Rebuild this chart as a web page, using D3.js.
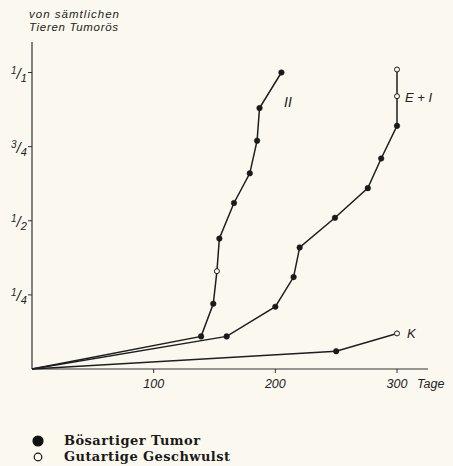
<!DOCTYPE html>
<html>
<head>
<meta charset="utf-8">
<script src="https://cdn.jsdelivr.net/npm/d3@7"></script>
<style>
  body { margin: 0; background: #fbf9ef; }
  svg { display: block; }
  .ital { font-family: "Liberation Sans", Arial, sans-serif; font-style: italic; fill: #222; }
  .legend { font-family: "DejaVu Serif", "Liberation Serif", serif; font-weight: bold; fill: #1a1a1a; }
</style>
</head>
<body>
<svg id="chart" width="453" height="466"></svg>
<script>
// Tage seit Versuchsbeginn und Anteil tumoröser Tiere
const daysII = [0, 139, 149, 152, 154, 166, 179, 185, 187, 205];
const shareII = [0, 0.11, 0.22, 0.33, 0.44, 0.56, 0.66, 0.77, 0.88, 1.0];
const kindII = ["", "m", "m", "b", "m", "m", "m", "m", "m", "m"];

const daysEI = [0, 160, 200, 215, 220, 249, 276, 287, 300, 300, 300];
const shareEI = [0, 0.11, 0.21, 0.31, 0.41, 0.51, 0.61, 0.71, 0.82, 0.92, 1.01];
const kindEI = ["", "m", "m", "m", "m", "m", "m", "m", "m", "b", "b"];

const daysK = [0, 250, 300];
const shareK = [0, 0.06, 0.12];
const kindK = ["", "m", "b"];

const xTicks = [100, 200, 300];
const yTicks = [[1, 4], [1, 2], [3, 4], [1, 1]];
const legendItems = [["m", "Bösartiger Tumor"], ["b", "Gutartige Geschwulst"]];

const svg = d3.select("#chart");

const x = d3.scaleLinear().domain([0, 300]).range([32, 397]);
const y = d3.scaleLinear().domain([0, 1]).range([369, 72.5]);

// Achsen
svg.append("line").attr("x1", x(0)).attr("x2", 428).attr("y1", y(0)).attr("y2", y(0))
  .attr("stroke", "#333").attr("stroke-width", 1);
svg.append("line").attr("x1", x(0)).attr("x2", x(0)).attr("y1", y(0)).attr("y2", 42)
  .attr("stroke", "#333").attr("stroke-width", 1.2);

// x-Ticks
xTicks.forEach(t => {
  svg.append("line").attr("x1", x(t)).attr("x2", x(t)).attr("y1", y(0)).attr("y2", y(0) + 4)
    .attr("stroke", "#333");
  svg.append("text").attr("class", "ital").attr("x", x(t)).attr("y", 388)
    .attr("text-anchor", "middle").attr("font-size", 12.5).text(t);
});
svg.append("text").attr("class", "ital").attr("x", 417).attr("y", 388)
  .attr("font-size", 12.5).text("Tage");

// y-Ticks als Bruch
yTicks.forEach(([n, d]) => {
  const yy = y(n / d);
  svg.append("line").attr("x1", x(0) - 4).attr("x2", x(0)).attr("y1", yy).attr("y2", yy)
    .attr("stroke", "#333");
  const t = svg.append("text").attr("class", "ital").attr("x", 11).attr("y", yy + 5);
  t.append("tspan").attr("dy", -4).attr("font-size", 10).text(n);
  t.append("tspan").attr("dy", 5).attr("font-size", 15).text("/");
  t.append("tspan").attr("dy", 3).attr("font-size", 11).text(d);
});

// Achsentitel
svg.append("text").attr("class", "ital").attr("x", 29).attr("y", 18).attr("font-size", 11.5)
  .attr("textLength", 90).text("von sämtlichen");
svg.append("text").attr("class", "ital").attr("x", 29).attr("y", 31).attr("font-size", 11.5)
  .attr("textLength", 89).text("Tieren Tumorös");

const line = d3.line().x(d => x(d[0])).y(d => y(d[1]));

function drawSeries(days, share, kind) {
  const pts = days.map((d, i) => [d, share[i], kind[i]]);
  svg.append("path").datum(pts).attr("d", line)
    .attr("fill", "none").attr("stroke", "#1e1e1e").attr("stroke-width", 1.5);
  svg.selectAll(null).data(pts.filter(p => p[2])).enter().append("circle")
    .attr("cx", p => x(p[0])).attr("cy", p => y(p[1]))
    .attr("r", p => p[2] === "m" ? 2.8 : 2.5)
    .attr("fill", p => p[2] === "m" ? "#1a1a1a" : "#fbf9ef")
    .attr("stroke", "#1a1a1a").attr("stroke-width", p => p[2] === "m" ? 0.5 : 1);
}

drawSeries(daysK, shareK, kindK);
drawSeries(daysEI, shareEI, kindEI);
drawSeries(daysII, shareII, kindII);

// Kurvenbeschriftung
svg.append("text").attr("class", "ital").attr("x", 284).attr("y", 107).attr("font-size", 14)
  .attr("font-family", "Liberation Serif").text("II");
svg.append("text").attr("class", "ital").attr("x", 405).attr("y", 102).attr("font-size", 13).text("E + I");
svg.append("text").attr("class", "ital").attr("x", 407).attr("y", 338).attr("font-size", 13).text("K");

// Legende
legendItems.forEach(([k, label], i) => {
  const yy = 441 + i * 16;
  svg.append("circle").attr("cx", 38).attr("cy", yy)
    .attr("r", k === "m" ? 5 : 3.8)
    .attr("fill", k === "m" ? "#111" : "#fbf9ef")
    .attr("stroke", "#111").attr("stroke-width", 1.2);
  svg.append("text").attr("class", "legend").attr("x", 64).attr("y", yy + 4)
    .attr("font-size", 13)
    .attr("textLength", i === 0 ? 136 : 166).attr("lengthAdjust", "spacing")
    .text(label);
});
</script>
</body>
</html>
